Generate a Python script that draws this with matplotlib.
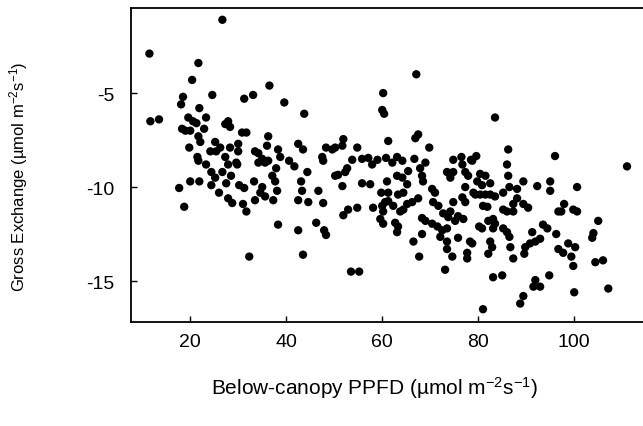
import matplotlib
matplotlib.use("Agg")
import matplotlib.pyplot as plt

plt.rcParams['font.family'] = ['Liberation Sans', 'DejaVu Sans']
plt.rcParams['mathtext.fontset'] = 'custom'
plt.rcParams['mathtext.rm'] = 'Liberation Sans'
plt.rcParams['mathtext.it'] = 'Liberation Sans:italic'
plt.rcParams['axes.unicode_minus'] = False

# below-canopy PPFD (umol m-2 s-1)
ppfd = [
    11.5, 21.7, 20.4, 24.6, 18.5, 18.1, 21.9, 11.7, 13.5, 19.6,
    20.6, 21.3, 23.3, 18.3, 19.0, 20.0, 22.9, 21.7, 22.1, 19.8,
    25.2, 24.2, 25.4, 21.5, 21.7, 23.3, 24.4, 25.2, 24.4, 26.0,
    21.9, 20.0, 17.7, 18.75, 26.7, 36.5, 31.25, 33.1, 39.6, 43.75,
    27.9, 28.3, 27.3, 30.8, 31.7, 36.25, 36.0, 26.25, 28.3, 30.0,
    30.0, 33.5, 34.2, 38.3, 42.5, 43.5, 27.3, 29.6, 35.0, 36.25,
    38.75, 40.6, 27.9, 29.8, 34.2, 35.6, 41.7, 37.9, 26.7, 28.5,
    37.1, 37.7, 33.3, 27.5, 30.2, 31.25, 35.0, 34.6, 35.6, 38.1,
    37.3, 33.5, 27.9, 28.75, 31.0, 31.7, 38.3, 42.5, 43.5, 32.3,
    43.1, 42.5, 43.3, 60.2, 60.0, 60.4, 48.3, 49.6, 50.2, 51.7,
    51.9, 54.8, 61.25, 47.5, 47.7, 53.75, 55.8, 57.1, 59.0, 60.8,
    44.4, 57.9, 52.7, 52.3, 50.2, 50.8, 46.7, 51.7, 55.8, 57.5,
    61.0, 59.8, 44.6, 47.7, 58.1, 60.0, 60.6, 60.2, 54.8, 52.9,
    51.9, 59.6, 60.2, 46.25, 47.9, 48.3, 53.5, 55.2, 67.1, 67.5,
    66.9, 69.8, 63.1, 64.2, 66.7, 69.0, 74.8, 76.5, 78.5, 62.1,
    67.9, 65.4, 68.3, 63.1, 64.2, 68.5, 76.7, 73.5, 74.8, 74.2,
    77.3, 77.9, 65.2, 64.4, 63.3, 61.25, 70.4, 71.0, 77.3, 79.0,
    67.5, 61.25, 62.3, 65.2, 66.25, 70.6, 71.7, 74.8, 76.7, 77.3,
    64.4, 63.75, 62.7, 63.3, 63.1, 68.3, 69.0, 72.7, 73.75, 74.2,
    75.2, 75.8, 76.9, 70.4, 71.5, 72.5, 73.5, 72.1, 73.5, 68.3,
    66.5, 75.8, 78.3, 73.5, 74.6, 77.7, 77.7, 67.7, 73.1, 83.5,
    79.6, 78.75, 86.25, 86.0, 96.0, 86.25, 80.4, 81.5, 79.8, 80.8,
    82.5, 89.4, 92.3, 95.0, 95.0, 79.4, 80.4, 81.5, 82.5, 83.5,
    85.2, 86.5, 88.1, 81.0, 81.9, 88.1, 87.3, 89.4, 90.4, 85.2,
    86.0, 87.3, 96.7, 82.1, 83.1, 83.5, 80.2, 80.8, 83.1, 85.2,
    86.0, 86.5, 86.7, 87.3, 91.25, 91.9, 90.8, 89.8, 89.6, 92.9,
    93.5, 94.4, 96.25, 78.75, 82.5, 82.9, 82.1, 96.7, 83.1, 85.0,
    91.9, 91.5, 92.9, 94.8, 89.4, 88.75, 81.0, 111.0, 100.6, 97.9,
    97.3, 99.8, 100.6, 105.0, 104.0, 103.75, 97.7, 98.75, 100.2, 99.4,
    99.8, 104.4, 106.0, 100.0, 107.1,
]

# gross exchange (umol m-2 s-1)
gross = [
    -2.9, -3.4, -4.3, -5.1, -5.2, -5.6, -5.8, -6.5, -6.4, -6.3,
    -6.5, -6.6, -6.3, -6.9, -7.0, -7.0, -6.9, -7.3, -7.6, -7.9,
    -7.6, -8.1, -8.1, -8.4, -8.6, -8.8, -9.2, -9.5, -9.9, -10.3,
    -9.7, -9.7, -10.05, -11.05, -1.1, -4.6, -5.3, -5.1, -5.5, -6.1,
    -6.5, -6.8, -6.65, -7.1, -7.1, -7.3, -7.8, -7.9, -7.9, -7.7,
    -8.1, -8.1, -8.2, -8.0, -7.7, -8.0, -8.4, -8.7, -8.5, -8.6,
    -8.4, -8.6, -8.8, -8.8, -8.7, -8.7, -8.9, -9.0, -9.2, -9.4,
    -9.4, -9.7, -9.7, -9.8, -9.9, -10.05, -10.0, -10.3, -10.5, -10.2,
    -10.7, -10.7, -10.6, -10.85, -10.9, -11.3, -12.0, -12.3, -13.6, -13.7,
    -9.7, -10.7, -10.2, -5.0, -5.9, -6.1, -7.9, -8.0, -7.9, -7.8,
    -7.45, -7.9, -7.55, -8.4, -8.6, -8.55, -8.5, -8.45, -8.55, -8.45,
    -9.2, -8.8, -9.0, -9.2, -9.4, -9.35, -10.2, -9.95, -9.8, -9.85,
    -9.7, -10.3, -10.8, -10.85, -11.1, -11.0, -10.8, -11.3, -11.1, -11.2,
    -11.5, -11.7, -11.95, -11.9, -12.3, -12.55, -14.5, -14.5, -4.0, -7.2,
    -7.4, -7.9, -8.4, -8.6, -8.5, -8.7, -8.55, -8.4, -8.55, -8.7,
    -9.0, -9.15, -9.4, -9.4, -9.5, -9.7, -8.8, -9.2, -9.2, -9.5,
    -9.2, -9.4, -9.85, -10.3, -10.4, -10.3, -10.1, -10.3, -10.0, -10.3,
    -10.6, -10.75, -11.0, -10.9, -10.8, -10.8, -11.0, -10.8, -10.55, -10.8,
    -11.2, -11.3, -11.9, -12.1, -12.4, -11.65, -11.8, -11.4, -11.6, -11.3,
    -11.8, -11.55, -11.7, -11.95, -12.1, -12.3, -12.2, -12.65, -12.9, -12.5,
    -12.9, -12.7, -12.9, -13.3, -13.7, -13.5, -13.8, -13.7, -14.4, -6.3,
    -8.35, -8.6, -8.0, -8.8, -8.35, -9.4, -9.3, -9.4, -9.7, -9.9,
    -9.8, -9.7, -9.95, -9.7, -10.2, -10.4, -10.4, -10.4, -10.4, -10.5,
    -10.3, -10.0, -10.1, -11.0, -11.05, -10.6, -10.9, -10.9, -11.1, -11.2,
    -11.3, -11.3, -11.3, -11.8, -11.7, -11.95, -12.1, -12.2, -12.2, -12.2,
    -12.4, -12.65, -13.2, -13.8, -12.4, -12.9, -13.0, -13.2, -13.55, -12.75,
    -12.0, -12.2, -12.5, -13.0, -12.9, -13.2, -13.55, -13.3, -14.8, -14.7,
    -14.95, -15.3, -15.3, -14.7, -15.8, -16.2, -16.5, -8.9, -10.0, -10.9,
    -11.3, -11.2, -11.3, -11.8, -12.45, -12.7, -13.5, -13.0, -13.2, -13.7,
    -14.2, -14.0, -13.9, -15.6, -15.4,
]

x_ticks = [20, 40, 60, 80, 100]
y_ticks = [-5, -10, -15]

fig = plt.figure(figsize=(6.43, 4.27), dpi=100)
ax = fig.add_axes([0.204, 0.2436, 0.801, 0.735])

ax.scatter(ppfd, gross, s=36, color='black', edgecolors='none')

ax.set_xlim(7.7, 115)
ax.set_ylim(-17.18, -0.48)
ax.set_xticks(x_ticks)
ax.set_yticks(y_ticks)
ax.set_yticklabels([str(v) for v in y_ticks])

ax.tick_params(direction='in', length=4.5, width=1, labelsize=14)
ax.tick_params(axis='x', pad=8)
ax.tick_params(axis='y', pad=12)
for sp in ax.spines.values():
    sp.set_linewidth(1.3)

ax.set_xlabel(r'Below-canopy PPFD (µmol m$^{\mathregular{-2}}$s$^{\mathregular{-1}}$)',
              fontsize=15)
ax.set_ylabel(r'Gross Exchange (µmol m$^{\mathregular{-2}}$s$^{\mathregular{-1}}$)',
              fontsize=12)
ax.xaxis.set_label_coords(0.472, -0.165)
ax.yaxis.set_label_coords(-0.196, 0.466)

fig.savefig('out.png', dpi=100)
plt.close(fig)
